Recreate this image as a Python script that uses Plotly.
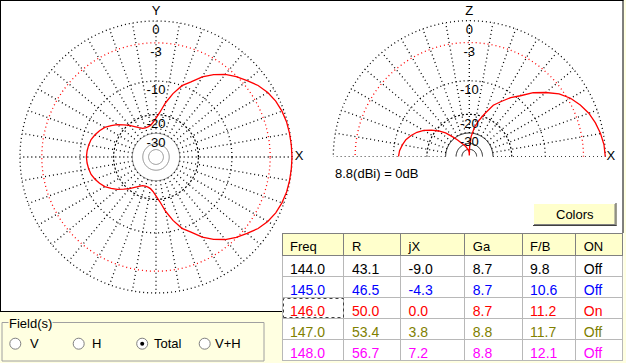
import numpy as np
import plotly.graph_objects as go

# ---------------- data ----------------
# Horizontal (Y) pattern, dB relative to max, symmetric about X axis
az_angles = [0, 5, 10, 15, 20, 25, 30, 35, 40, 45, 50, 55, 60, 65, 70, 75, 80, 85, 90,
             95, 100, 105, 110, 115, 120, 125, 130, 135, 140, 145, 150, 155, 160, 165,
             170, 175, 180]
az_db = [0, -0.02, -0.05, -0.1, -0.25, -0.5, -0.9, -1.5, -2.3, -3.1, -4.0, -5.2, -6.6,
         -8.5, -10.0, -12.5, -15.5, -19.0, -21.5, -23.5, -24.8, -25.3, -25.4, -25.0,
         -23.8, -22.3, -20.5, -18.8, -17.0, -15.6, -14.3, -13.4, -12.7, -12.1, -11.8,
         -11.6, -11.5]

# Vertical (Z) pattern, elevation angle from +X horizon
el_angles = [0, 5, 10, 15, 20, 25, 30, 35, 40, 45, 50, 55, 60, 65, 70, 75, 80, 85, 88,
             90, 92, 95, 100, 105, 110, 115, 120, 125, 130, 135, 140, 145, 150, 155, 160,
             165, 170, 175, 180]
el_db = [0, -0.1, -0.35, -0.7, -1.15, -1.8, -2.6, -3.7, -5.3, -7.0, -9.2, -10.9, -13.0,
         -15.0, -18.5, -22.0, -26.0, -33.0, -45.0, -80.0, -60.0, -55.0, -51.0, -47.0,
         -43.0, -40.0, -37.0, -32.5, -28.5, -24.0, -21.0, -18.5, -16.3, -14.7, -13.5,
         -12.5, -11.9, -11.4, -11.2]

ring_db = [0, -3, -10, -20, -30, -40, -50]
ring_labels = ["0", "-3", "-10", "-20", "-30"]
gain_note = "8.8(dBi) = 0dB"

table_header = ["Freq", "R", "jX", "Ga", "F/B", "ON"]
freq = ["144.0", "145.0", "146.0", "147.0", "148.0"]
res_R = ["43.1", "46.5", "50.0", "53.4", "56.7"]
res_jX = ["-9.0", "-4.3", "0.0", "3.8", "7.2"]
gain_Ga = ["8.7", "8.7", "8.7", "8.8", "8.8"]
ratio_FB = ["9.8", "10.6", "11.2", "11.7", "12.1"]
state_ON = ["Off", "Off", "On", "Off", "Off"]
row_colors = ["#000000", "#0000FF", "#FF0000", "#808000", "#FF00FF"]

fields = ["V", "H", "Total", "V+H"]
selected_field = "Total"

# ---------------- helpers ----------------
W, H = 626, 363
FONT = "Liberation Sans, Arial, sans-serif"
BG = "#FFFFE1"
CELLBG = "#FFFFCC"
RMAX = 1.1          # radial range (leaves room for axis letters)
R0 = 136            # pixel radius of the 0 dB ring


def arrl(db):
    """ARRL log-periodic radial scale used by MMANA."""
    return 0.89 ** (-np.asarray(db, dtype=float) / 2.0)


def px(x):
    return x / W


def py(y):
    return 1 - y / H


fig = go.Figure()


def add_grid(subplot, full, inner_color, pattern_angles, pattern_db, axis_name, x_r, x_th):
    span = 360 if full else 180
    th = np.linspace(0, span, span * 2 + 1)
    styles = {0: ("black", "1px,3px", 1.3), -3: ("red", "1px,3px", 1.3),
              -10: ("black", "1px,3px", 1.3), -20: ("black", "2px,2px", 1.2),
              -30: (inner_color, "solid", 1), -40: (inner_color, "solid", 1),
              -50: (inner_color, "solid", 1)}
    for d in ring_db:
        col, dash, w = styles[d]
        fig.add_trace(go.Scatterpolar(
            r=np.full(th.shape, float(arrl(d))), theta=th, mode="lines",
            line=dict(color=col, width=w, dash=dash), subplot=subplot,
            hoverinfo="skip", showlegend=False))
    # spokes every 10 degrees between -30 and 0 dB rings
    r_in, r_out = float(arrl(-30)), float(arrl(0))
    rs, ts = [], []
    stop = span if full else span + 1
    for a in range(0, stop, 10):
        rs += [r_in, r_out, None]
        ts += [a, a, None]
    fig.add_trace(go.Scatterpolar(
        r=rs, theta=ts, mode="lines", line=dict(color="black", width=1.3, dash="1px,3px"),
        subplot=subplot, hoverinfo="skip", showlegend=False, connectgaps=False))
    # pattern
    ang = list(pattern_angles)
    dbv = list(pattern_db)
    if full:
        ang = ang + [360 - a for a in reversed(pattern_angles[:-1])]
        dbv = dbv + list(reversed(pattern_db[:-1]))
    fig.add_trace(go.Scatterpolar(
        r=arrl(dbv), theta=ang, mode="lines", line=dict(color="#FF0000", width=1.3),
        subplot=subplot, hoverinfo="skip", showlegend=False))
    # ring labels
    off = 10 / R0
    lab_r = [float(arrl(d)) - off for d in ring_db[:len(ring_labels)]]
    fig.add_trace(go.Scatterpolar(
        r=lab_r + [1.068, x_r], theta=[90] * len(lab_r) + [90, x_th],
        text=ring_labels + [axis_name, "X"], mode="text",
        textfont=dict(family=FONT, size=13, color="black"), cliponaxis=False,
        subplot=subplot, hoverinfo="skip", showlegend=False))


add_grid("polar", True, "#808080", az_angles, az_db, "Y", 1.053, 0)
add_grid("polar2", False, "#000000", el_angles, el_db, "Z", 1.04, 0)

# ---------------- table ----------------
cols = [freq, res_R, res_jX, gain_Ga, ratio_FB, state_ON]
fig.add_trace(go.Table(
    domain=dict(x=[px(282), px(622.5)], y=[0, py(233)]),
    columnwidth=[62, 56.7, 64.3, 57.3, 53.7, 46.3],
    header=dict(values=table_header, fill_color=CELLBG, height=22,
                line=dict(color="#808080", width=1), align="left",
                font=dict(family=FONT, size=13, color="black")),
    cells=dict(values=cols, fill_color="white", height=21,
               line=dict(color="#B8B8B8", width=1), align="left",
               font=dict(family=FONT, size=14, color=[row_colors] * len(cols))),
))

# ---------------- chrome ----------------
shapes = []


def rect(x0, y0, x1, y1, **kw):
    d = dict(type="rect", xref="paper", yref="paper",
             x0=px(x0), x1=px(x1), y0=py(y1), y1=py(y0))
    d.update(kw)
    shapes.append(d)


def hline(x0, x1, y, color, **kw):
    shapes.append(dict(type="line", xref="paper", yref="paper", x0=px(x0), x1=px(x1),
                       y0=py(y), y1=py(y), line=dict(color=color, width=1), **kw))


def vline(x, y0, y1, color, **kw):
    shapes.append(dict(type="line", xref="paper", yref="paper", x0=px(x), x1=px(x),
                       y0=py(y0), y1=py(y1), line=dict(color=color, width=1), **kw))


# white drawing panel
rect(0, 0, 623.5, 312, fillcolor="white", line=dict(width=0), layer="below")
hline(0, 623.5, 0.5, "black", layer="below")
vline(0.5, 0, 312, "black", layer="below")
vline(623, 0, 233, "black", layer="below")
hline(0, 282, 311.5, "black", layer="below")

# Colors button
rect(533, 203, 616.5, 226, fillcolor=CELLBG, line=dict(width=0))
hline(533, 616.5, 203.5, "white")
vline(533.5, 203, 226, "white")
hline(533, 616.5, 225.5, "#404040")
vline(616, 203, 226, "#404040")
hline(534, 615.5, 224.5, "#808080")
vline(615, 204, 225, "#808080")

# Field(s) group box
rect(2, 322.5, 264, 361, line=dict(color="#A0A0A0", width=1))

# focus rectangle on selected row
rect(283.5, 298.5, 343.5, 317.5, line=dict(color="#404040", width=1, dash="dot"))


def label(text, x, y, xanchor="left", **kw):
    d = dict(text=text, x=px(x), y=py(y), xref="paper", yref="paper",
             xanchor=xanchor, yanchor="middle", showarrow=False,
             font=dict(family=FONT, size=13, color="black"))
    d.update(kw)
    return d


annotations = [
    label("Colors", 575, 214.5, xanchor="center"),
    label(gain_note, 332.5, 174),
    label("Field(s)", 8, 323.5, bgcolor=BG, borderpad=0),
]

radio_cx = [15.3, 78.7, 142.2, 204.7]
label_x = [27.5, 90, 152, 212.5]
ry = 343.7
for f, cx, lx in zip(fields, radio_cx, label_x):
    shapes.append(dict(type="circle", xref="paper", yref="paper",
                       x0=px(cx - 5.5), x1=px(cx + 5.5), y0=py(ry + 5.5), y1=py(ry - 5.5),
                       fillcolor="white", line=dict(color="#808080", width=1)))
    if f == selected_field:
        shapes.append(dict(type="circle", xref="paper", yref="paper",
                           x0=px(cx - 2), x1=px(cx + 2), y0=py(ry + 2), y1=py(ry - 2),
                           fillcolor="black", line=dict(width=0)))
    annotations.append(label(f, lx, ry))

hidden_radial = dict(visible=False, range=[0, RMAX])
hidden_ang = dict(visible=False)

# polar centres (px) and outer radius of the plotting area
az_c = (156, 157)
el_c = (469.3, 156.7)
Rp = R0 * RMAX

fig.update_layout(
    width=W, height=H, margin=dict(l=0, r=0, t=0, b=0),
    paper_bgcolor=BG, showlegend=False,
    font=dict(family=FONT, size=13, color="black"),
    polar=dict(domain=dict(x=[px(az_c[0] - Rp), px(az_c[0] + Rp)],
                           y=[py(az_c[1] + Rp), py(az_c[1] - Rp)]),
               radialaxis=hidden_radial, angularaxis=hidden_ang,
               bgcolor="rgba(0,0,0,0)"),
    polar2=dict(domain=dict(x=[px(el_c[0] - Rp), px(el_c[0] + Rp)],
                            y=[py(el_c[1]), py(el_c[1] - Rp)]),
                sector=[0, 180], radialaxis=hidden_radial, angularaxis=hidden_ang,
                bgcolor="rgba(0,0,0,0)"),
    shapes=shapes, annotations=annotations,
)

fig.write_html("out.html")
